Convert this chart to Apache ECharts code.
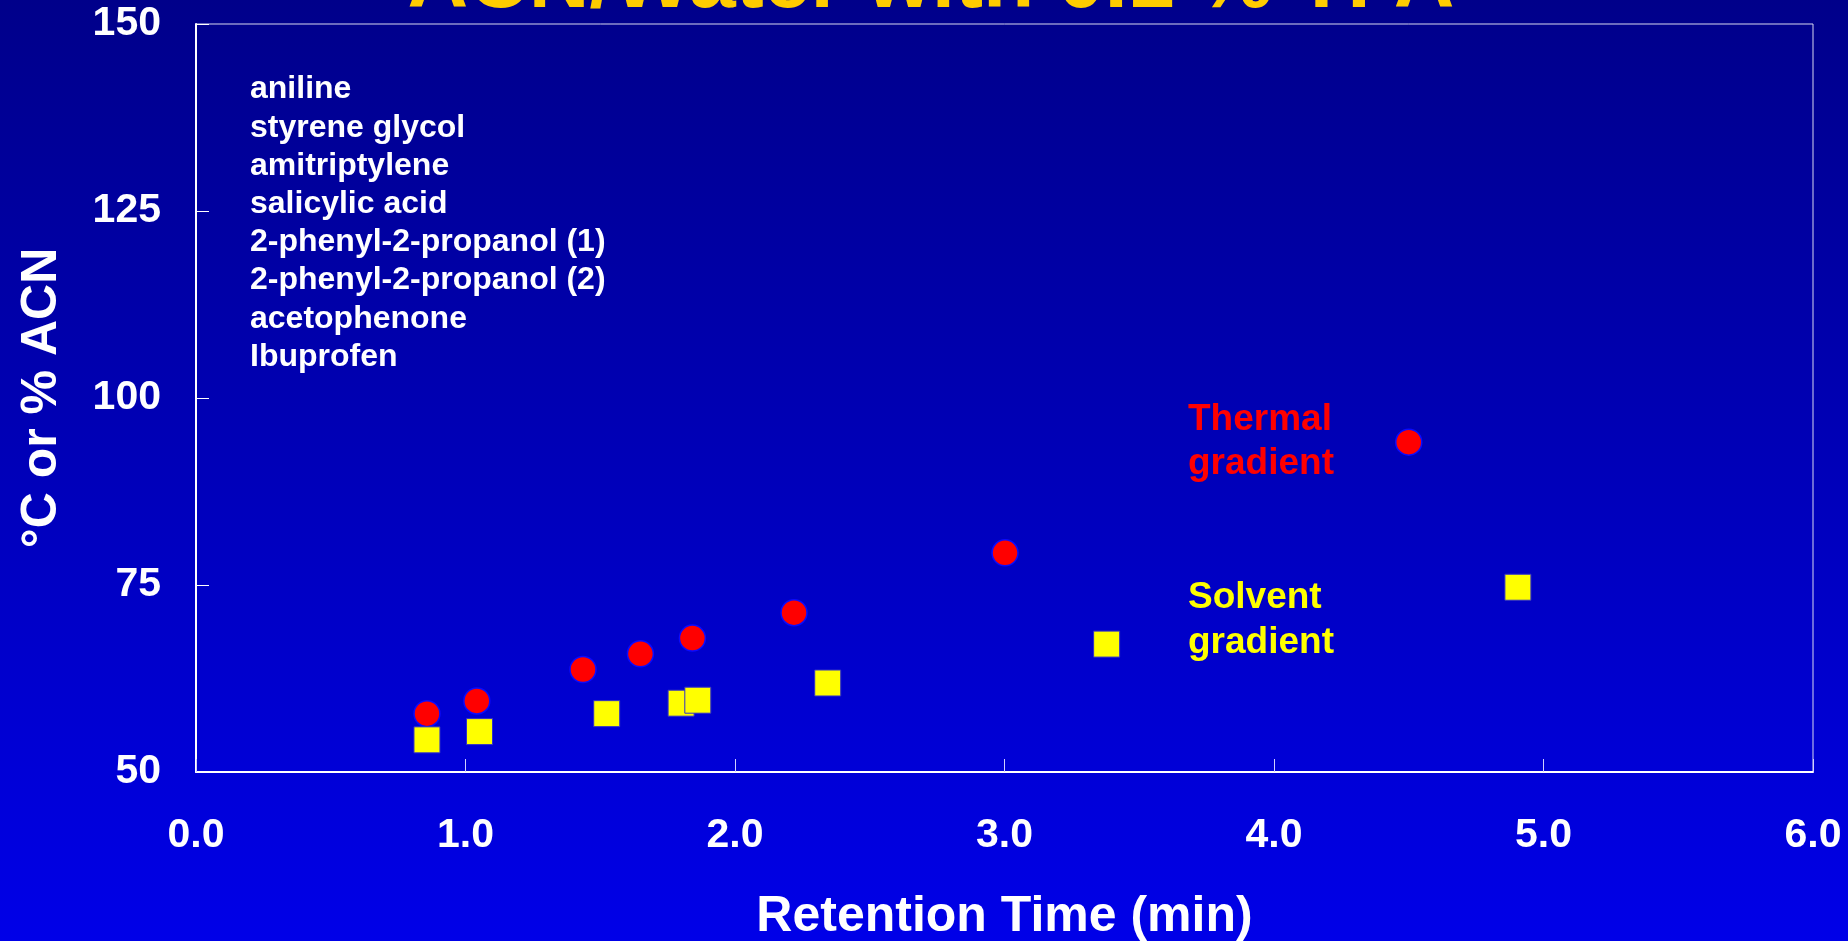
<!DOCTYPE html>
<html>
<head>
<meta charset="utf-8">
<script src="https://cdn.jsdelivr.net/npm/echarts@6/dist/echarts.min.js"></script>
<style>
html,body{margin:0;padding:0;width:1848px;height:941px;overflow:hidden;background:#0000c0;}
#chart{width:1848px;height:941px;}
</style>
</head>
<body>
<div id="chart"></div>
<script>
var titleText = 'ACN/Water with 0.1 % TFA';
var compounds = ['aniline','styrene glycol','amitriptylene','salicylic acid','2-phenyl-2-propanol (1)','2-phenyl-2-propanol (2)','acetophenone','Ibuprofen'];
var thermalRetention = [0.857, 1.042, 1.436, 1.649, 1.842, 2.219, 3.002, 4.500];
var thermalTemp      = [57.8, 59.5, 63.7, 65.8, 67.9, 71.3, 79.3, 94.1];
var solventRetention = [0.857, 1.052, 1.524, 1.800, 1.862, 2.344, 3.379, 4.905];
var solventACN       = [54.3, 55.4, 57.8, 59.2, 59.6, 61.9, 67.1, 74.7];
var xTicks = [0, 1, 2, 3, 4, 5, 6];
var yTicks = [50, 75, 100, 125, 150];

var FONT = '"Liberation Sans", Arial, sans-serif';
function pairs(xs, ys){ return xs.map(function(x,i){ return [x, ys[i]]; }); }

var graphics = [{
  type:'text', x:931, y:-16, z:10,
  style:{text:titleText, fill:'#FFCC00', font:'bold 84px '+FONT, textAlign:'center', textVerticalAlign:'middle'}
}];
compounds.forEach(function(name, i){
  graphics.push({
    type:'text', x:250, y:89.5 + i*38.2, z:10,
    style:{text:name, fill:'#ffffff', font:'bold 32px '+FONT, textAlign:'left', textVerticalAlign:'middle'}
  });
});
graphics.push({
  type:'text', x:1188, y:398, z:10,
  style:{text:'Thermal\ngradient', fill:'#ff0000', font:'bold 37px '+FONT, lineHeight:44, textAlign:'left', textVerticalAlign:'top'}
});
graphics.push({
  type:'text', x:1188, y:575, z:10,
  style:{text:'Solvent\ngradient', fill:'#ffff00', font:'bold 37px '+FONT, lineHeight:45, textAlign:'left', textVerticalAlign:'top'}
});

var chart = echarts.init(document.getElementById('chart'), null, {renderer:'canvas'});
chart.setOption({
  animation:false,
  backgroundColor:{type:'linear', x:0, y:0, x2:0, y2:1, colorStops:[{offset:0,color:'#00008a'},{offset:1,color:'#0000e8'}]},
  grid:{left:196, top:24, right:35, bottom:169, containLabel:false, outerBoundsMode:'none',
        show:true, borderColor:'#d8d8f0', borderWidth:1, backgroundColor:'transparent'},
  xAxis:{
    type:'value', min:xTicks[0], max:xTicks[xTicks.length-1], interval:1,
    name:'Retention Time (min)', nameLocation:'middle', nameGap:120,
    nameTextStyle:{color:'#ffffff', fontSize:50, fontWeight:'bold', fontFamily:FONT},
    axisLine:{show:true, onZero:false, lineStyle:{color:'#ffffff', width:2}},
    axisTick:{show:true, inside:true, length:13, lineStyle:{color:'#d0d0ff', width:1}},
    axisLabel:{color:'#ffffff', fontSize:41, fontWeight:'bold', fontFamily:FONT, margin:43,
      formatter:function(v){ return v.toFixed(1); }},
    splitLine:{show:false}
  },
  yAxis:{
    type:'value', min:yTicks[0], max:yTicks[yTicks.length-1], interval:25,
    name:'°C or % ACN', nameLocation:'middle', nameGap:129, nameRotate:90,
    nameTextStyle:{color:'#ffffff', fontSize:50, fontWeight:'bold', fontFamily:FONT},
    axisLine:{show:true, onZero:false, lineStyle:{color:'#ffffff', width:2}},
    axisTick:{show:true, inside:true, length:13, lineStyle:{color:'#ffffff', width:1}},
    axisLabel:{color:'#ffffff', fontSize:41, fontWeight:'bold', fontFamily:FONT, margin:35},
    splitLine:{show:false}
  },
  series:[{
    name:'Thermal gradient', type:'scatter', symbol:'circle', symbolSize:26,
    itemStyle:{color:'#ff0000', borderColor:'#0a0aff', borderWidth:1.5, opacity:1},
    data:pairs(thermalRetention, thermalTemp), z:3
  },{
    name:'Solvent gradient', type:'scatter', symbol:'rect', symbolSize:26,
    itemStyle:{color:'#ffff00', borderColor:'#3030c8', borderWidth:1, opacity:1},
    data:pairs(solventRetention, solventACN), z:4
  }],
  graphic:graphics
});
</script>
</body>
</html>
